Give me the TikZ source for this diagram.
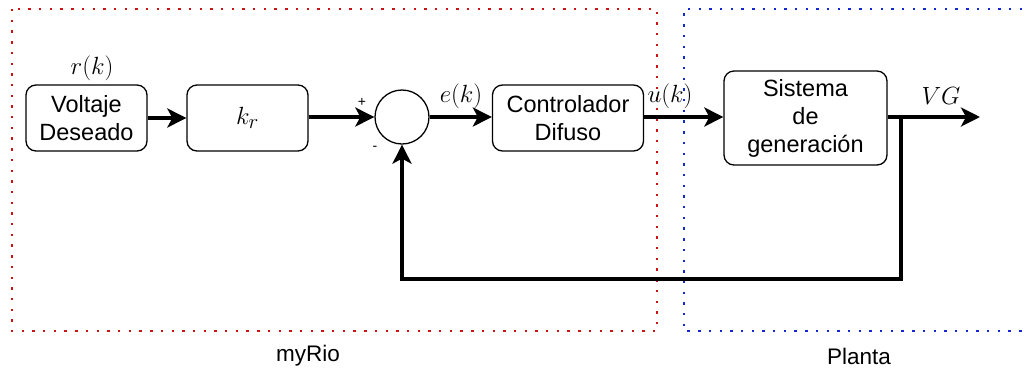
\documentclass[tikz,border=0pt]{standalone}
\usepackage{fontspec}
\setmainfont{Liberation Sans}
\usetikzlibrary{arrows.meta}
\begin{document}
\begin{tikzpicture}[x=1pt,y=-1pt,
  blk/.style={draw, rounded corners=10pt, line width=1.3pt, align=center, font=\fontsize{23.5}{28}\selectfont, inner sep=0pt},
  sig/.style={line width=3.4pt, -{Stealth[length=19pt,width=19pt,inset=5pt]}},
  lbl/.style={font=\fontsize{28}{30}\selectfont},
  zone/.style={line width=2.4pt, dash pattern=on 2.4pt off 8.3pt},
  txt/.style={font=\fontsize{22.5}{26}\selectfont}]
\useasboundingbox (0,0) rectangle (1026,376);
\definecolor{zred}{RGB}{200,20,20}
\definecolor{zblue}{RGB}{20,40,210}
% zones
\draw[zone, zred] (12,9) rectangle (657,331);
\draw[zone, zblue] (1022,9) -- (684,9) -- (684,331) -- (1022,331);
% blocks
\node[blk, minimum width=121pt, minimum height=66pt] (vd) at (86.5,118) {Voltaje\\Deseado};
\node[blk, minimum width=121pt, minimum height=66pt] (kr) at (247.5,118) {\fontsize{28}{30}\selectfont$k_r$};
\node[draw, circle, line width=1.3pt, minimum size=54pt, inner sep=0pt] (sum) at (402,117) {};
\node[blk, minimum width=151pt, minimum height=66pt] (cd) at (568,118) {Controlador\\Difuso};
\node[blk, minimum width=163pt, minimum height=94pt] (sg) at (805.5,118) {Sistema\\de\\generación};
\coordinate (out) at (980,117);
\coordinate (tap) at (901,117);
\coordinate (fb) at (901,279);
% signals
\draw[sig] (vd.east) -- (kr.west);
\draw[sig] (kr.east |- sum.west) -- (sum.west);
\draw[sig] (sum.east) -- (cd.west |- sum.east);
\draw[sig] (cd.east |- sum.east) -- (sg.west |- sum.east);
\draw[sig] (sg.east |- sum.east) -- (out);
\draw[sig] (tap) -- (fb) -- (sum.south |- fb) -- (sum.south);
% labels
\node[lbl] (rk) at (92,68) {$r(k)$};
\node[lbl] (ek) at (461,96) {$e(k)$};
\node[lbl] (uk) at (670,96) {$u(k)$};
\node[lbl] (vg) at (941,96) {$VG$};
\node[font=\fontsize{14}{16}\selectfont] (plus) at (362,102) {+};
\node[font=\fontsize{14}{16}\selectfont] (minus) at (375,148) {-};
\node[txt] (myrio) at (308,356) {myRio};
\node[txt] (planta) at (859,356) {Planta};
\end{tikzpicture}
\end{document}
